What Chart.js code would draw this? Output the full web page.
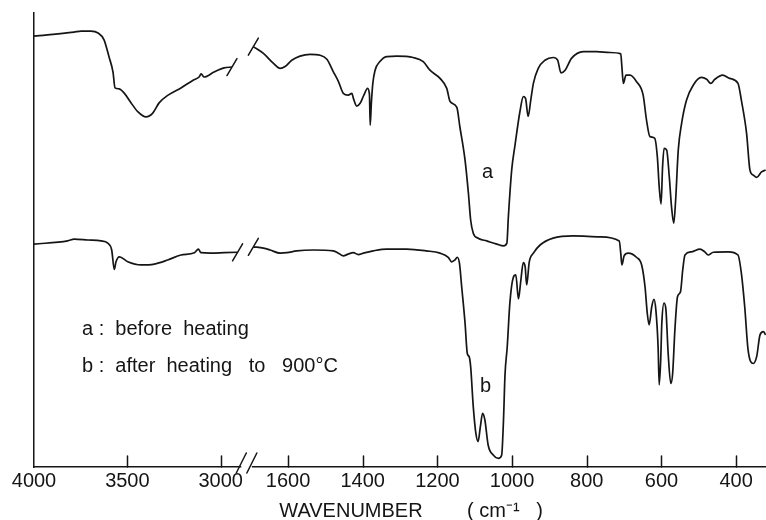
<!DOCTYPE html>
<html>
<head>
<meta charset="utf-8">
<script src="https://cdn.jsdelivr.net/npm/chart.js@4.4.1/dist/chart.umd.min.js"></script>
<style>
  html, body { margin: 0; padding: 0; background: #fff; }
  #wrap { position: relative; width: 766px; height: 520px; }
</style>
</head>
<body>
<div id="wrap"><canvas id="ir"></canvas></div>
<script>
// spectrum a: before heating (wavenumber cm-1 / relative transmittance), null = axis break
const waveA = [4000, 3786, 3748, 3695, 3657, 3625, 3598, 3577, 3566, 3545, 3518, 3480, 3443, 3400, 3363, 3330, 3282, 3213, 3148, 3116, 3105, 3089, 3036, 2982, 2940,
  2300,
  1693, 1666, 1639, 1621, 1608, 1590, 1568, 1541, 1514, 1496, 1479, 1465, 1452, 1439, 1429, 1425, 1416, 1407, 1397, 1387, 1382, 1380, 1377, 1373, 1367, 1354, 1336,
  1309, 1265, 1238, 1220, 1193, 1175, 1166, 1148, 1140, 1126, 1117, 1111, 1104, 1091, 1068, 1041, 1023, 1014, 1010, 1001, 992, 979, 970, 964, 957, 950, 943,
  930, 912, 890, 878, 869, 858, 841, 809, 774, 738, 709, 706, 702, 695, 684, 667, 649, 640, 631, 618, 611, 606, 601, 597, 593, 586, 579, 573, 567, 562, 555,
  546, 533, 515, 493, 479, 468, 457, 436, 417, 395, 386, 372, 363, 354, 345, 332, 321];
const transA = [94.9, 95.8, 96.0, 96.0, 95.6, 94.1, 90.3, 87.0, 83.5, 83.3, 82.4, 80.2, 78.2, 77.1, 78.0, 80.2, 81.9, 83.5, 85.2, 85.9, 86.6, 85.9, 87.0, 87.9, 88.1,
  null,
  92.6, 91.1, 88.9, 87.8, 88.2, 89.6, 90.5, 90.9, 90.7, 89.8, 87.1, 84.9, 82.3, 81.9, 82.3, 81.2, 79.5, 80.1, 81.9, 83.4, 82.0, 75.3, 80.0, 84.5, 87.4, 89.3, 90.4,
  90.5, 90.2, 89.3, 87.4, 85.6, 83.4, 80.5, 79.2, 75.0, 67.6, 60.3, 54.4, 51.5, 50.4, 49.8, 49.1, 48.7, 49.3, 55.1, 65.5, 71.0, 78.3, 81.6, 81.2, 77.2, 80.8, 84.5,
  87.8, 89.6, 90.2, 89.6, 86.8, 87.4, 90.0, 91.5, 91.5, 91.3, 91.0, 88.2, 84.5, 86.3, 86.3, 84.9, 81.9, 76.4, 72.8, 72.4, 68.3, 61.7, 57.9, 66.1, 70.2, 69.8, 63.9, 57.3, 53.7, 58.8, 69.8,
  75.7, 80.8, 84.1, 85.8, 85.4, 84.5, 85.4, 86.3, 85.6, 84.5, 80.8, 73.5, 65.4, 64.3, 63.8, 65.0, 65.4];

// spectrum b: after heating to 900 C
const waveB = [4000, 3820, 3784, 3712, 3641, 3605, 3584, 3570, 3561, 3543, 3498, 3427, 3356, 3284, 3213, 3141, 3120, 3106, 3052, 2981, 2910,
  2300,
  1693, 1666, 1648, 1621, 1603, 1577, 1532, 1479, 1465, 1452, 1439, 1425, 1412, 1398, 1372, 1336, 1282, 1229, 1193, 1171, 1162, 1153, 1147, 1141, 1135, 1126,
  1120, 1115, 1111, 1104, 1097, 1091, 1085, 1079, 1073, 1064, 1050, 1037, 1028, 1023, 1019, 1013, 1006, 997, 990, 983, 977, 970, 965, 961, 954, 943, 925,
  890, 836, 765, 713, 709, 706, 700, 689, 667, 653, 644, 638, 633, 626, 620, 615, 609, 606, 602, 599, 593, 588, 582, 575, 570, 564, 557, 549, 543, 537,
  519, 497, 484, 475, 461, 421, 395, 386, 377, 368, 354, 345, 336, 327, 321];
const transB = [49.1, 49.8, 50.2, 50.0, 49.8, 49.3, 47.8, 43.5, 45.2, 46.3, 45.2, 44.5, 44.7, 45.6, 46.7, 47.2, 48.0, 47.2, 47.1, 47.2, 47.3,
  null,
  48.5, 48.2, 47.8, 47.1, 47.2, 47.6, 47.8, 47.6, 47.1, 46.5, 46.9, 47.2, 46.8, 47.1, 47.6, 48.0, 48.0, 47.6, 47.1, 46.2, 45.2, 45.6, 46.2, 44.9, 39.7, 31.7,
  25.0, 24.3, 22.1, 13.3, 7.4, 5.6, 8.9, 11.8, 10.4, 4.8, 2.6, 1.9, 2.6, 10.4, 20.3, 26.5, 36.1, 41.7, 42.3, 37.0, 40.8, 45.0, 44.1, 40.1, 45.2, 47.1, 48.9,
  50.4, 50.9, 50.7, 49.8, 47.1, 44.5, 46.5, 47.1, 46.2, 44.5, 39.7, 33.9, 31.3, 35.3, 36.9, 34.6, 26.5, 18.1, 23.6, 31.7, 36.1, 34.6, 25.0, 18.4, 20.6, 30.2, 37.5, 38.6, 43.4, 46.7,
  47.4, 48.0, 47.4, 46.7, 47.3, 47.4, 46.7, 42.7, 35.3, 25.8, 22.8, 24.3, 29.1, 29.8, 29.1];

const tickWaves = [4000, 3500, 3000, 1600, 1400, 1200, 1000, 800, 600, 400];
const tickLabels = ['4000', '3500', '3000', '1600', '1400', '1200', '1000', '800', '600', '400'];
const axisBreak = [2890, 1697];

// broken wavenumber axis: 4000-2850 compressed, 1700-320 expanded
function waveToUnit(w) {
  if (w >= 2300) return (4000 - w) * 0.1867;
  return 254 + (1600 - w) * 0.3733;
}
const UNIT_MAX = waveToUnit(320);

class BrokenWaveScale extends Chart.LinearScale {
  buildTicks() {
    return tickWaves.map(v => ({ value: v }));
  }
  getPixelForValue(value) {
    return this.left + waveToUnit(value) / UNIT_MAX * this.width;
  }
}
BrokenWaveScale.id = 'brokenWave';
BrokenWaveScale.defaults = {};
Chart.register(BrokenWaveScale);

const toPoints = (waves, vals) => waves.map((w, i) => ({ x: w, y: vals[i] }));

const ink = '#151515';
const textFont = '20px "Liberation Sans", Arial, sans-serif';

const irMarks = {
  id: 'irMarks',
  afterDraw(chart) {
    const { ctx, chartArea: ca, scales: { x, y } } = chart;
    ctx.save();
    ctx.strokeStyle = ink;
    ctx.lineWidth = 1.5;
    ctx.lineCap = 'round';
    const line = (x1, y1, x2, y2) => {
      ctx.beginPath(); ctx.moveTo(x1, y1); ctx.lineTo(x2, y2); ctx.stroke();
    };

    // ticks point inward
    tickWaves.forEach(w => {
      if (w === 4000) return;
      const px = Math.round(x.getPixelForValue(w)) + 0.5;
      line(px, ca.bottom, px, ca.bottom - 11);
    });

    // axis break
    const bx1 = x.getPixelForValue(axisBreak[0]);
    const bx2 = x.getPixelForValue(axisBreak[1]);
    ctx.fillStyle = '#fff';
    ctx.fillRect(bx1, ca.bottom - 3, bx2 - bx1, 6);
    line(bx1 - 5, ca.bottom + 6, bx1 + 5, ca.bottom - 14);
    line(bx2 - 5, ca.bottom + 6, bx2 + 5, ca.bottom - 14);

    // break slashes on both curves
    [[waveA, transA], [waveB, transB]].forEach(([ws, vs]) => {
      const gap = vs.indexOf(null);
      [gap - 1, gap + 1].forEach(i => {
        const cx = x.getPixelForValue(ws[i]);
        const cy = y.getPixelForValue(vs[i]);
        line(cx - 5, cy + 8.5, cx + 5, cy - 8.5);
      });
    });

    // labels
    ctx.fillStyle = ink;
    ctx.font = textFont;
    ctx.textAlign = 'left';
    ctx.textBaseline = 'alphabetic';
    ctx.fillText('a', 482, 178);
    ctx.fillText('b', 480, 392);
    ctx.fillText('a :  before  heating', 82, 335);
    ctx.fillText('b :  after  heating   to   900°C', 82, 372);
    ctx.restore();
  }
};

new Chart(document.getElementById('ir'), {
  type: 'line',
  data: {
    datasets: [
      { label: 'a', data: toPoints(waveA, transA) },
      { label: 'b', data: toPoints(waveB, transB) }
    ]
  },
  options: {
    responsive: true,
    maintainAspectRatio: false,
    animation: false,
    events: [],
    layout: { padding: { left: 34, top: 13, right: 0, bottom: 0 } },
    elements: {
      point: { radius: 0 },
      line: { borderColor: ink, borderWidth: 1.7, fill: false, cubicInterpolationMode: 'monotone', borderJoinStyle: 'round' }
    },
    plugins: { legend: { display: false }, tooltip: { enabled: false } },
    scales: {
      x: {
        type: 'brokenWave',
        position: 'bottom',
        min: 320,
        max: 4000,
        grid: { display: false, drawTicks: false },
        border: { display: true, color: ink, width: 1.5 },
        ticks: {
          autoSkip: false,
          maxRotation: 0,
          padding: 2,
          color: ink,
          font: { family: '"Liberation Sans", Arial, sans-serif', size: 20 },
          callback: v => tickLabels[tickWaves.indexOf(v)]
        },
        title: {
          display: true,
          text: '    WAVENUMBER        ( cm\u207B\u00B9   )',
          color: ink,
          font: { family: '"Liberation Sans", Arial, sans-serif', size: 20, lineHeight: 1 },
          padding: { top: 0, bottom: -1.5 }
        },
        afterFit: s => { s.height = 53; }
      },
      y: {
        min: 0,
        max: 100,
        ticks: { display: false },
        grid: { display: false, drawTicks: false },
        border: { display: true, color: ink, width: 1.5 },
        afterFit: s => { s.width = 0; }
      }
    }
  },
  plugins: [irMarks]
});
</script>
</body>
</html>
